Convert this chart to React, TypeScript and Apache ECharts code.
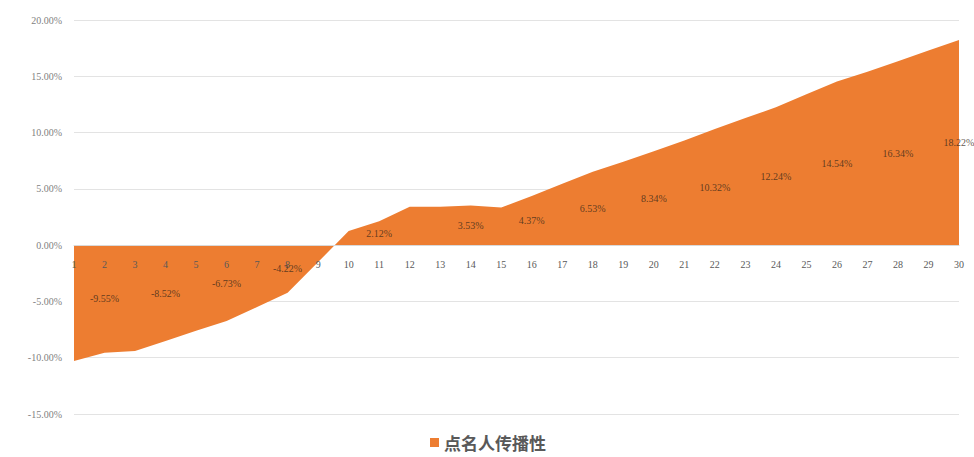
import React, { useEffect, useRef } from "react";
import * as echarts from "echarts";

const categories = Array.from({ length: 30 }, (_, i) => String(i + 1));
const seriesName = "点名人传播性";
const values = [
  -10.3, -9.55, -9.4, -8.52, -7.6, -6.73, -5.5, -4.22, -1.5, 1.25,
  2.12, 3.4, 3.4, 3.53, 3.35, 4.37, 5.45, 6.53, 7.4, 8.34,
  9.3, 10.32, 11.3, 12.24, 13.4, 14.54, 15.4, 16.34, 17.3, 18.22,
];
const labelledCategories = ["2", "4", "6", "8", "11", "14", "16", "18", "20", "22", "24", "26", "28", "30"];
const yTicks = { min: -15, max: 20, interval: 5 };

export default function App() {
  const ref = useRef<HTMLDivElement>(null);
  useEffect(() => {
    document.body.style.margin = "0";
    const chart = echarts.init(ref.current!, null, { renderer: "svg" });
    const labelData = labelledCategories.map((c) => {
      const i = categories.indexOf(c);
      return { value: [c, values[i] / 2], text: values[i].toFixed(2) + "%" };
    });
    const gridTop = 20;
    const gridBottom = 43;
    const plotH = 457 - gridTop - gridBottom;
    const zeroFromBottom = (plotH * (0 - yTicks.min)) / (yTicks.max - yTicks.min);
    chart.setOption({
      animation: false,
      grid: { left: 74, right: 15, top: gridTop, bottom: gridBottom },
      legend: {
        bottom: 1,
        left: 425,
        data: [{ name: seriesName, icon: "rect" }],
        itemWidth: 9,
        itemHeight: 9,
        itemGap: 6,
        textStyle: { fontSize: 17, color: "#595959", fontWeight: "bold", fontFamily: "Noto Sans CJK SC" },
      },
      xAxis: {
        type: "category",
        data: categories,
        boundaryGap: false,
        z: 5,
        offset: -zeroFromBottom,
        axisLine: { onZero: false, lineStyle: { color: "#d9d9d9" } },
        axisTick: { show: false },
        axisLabel: { interval: 0, fontSize: 10, color: "#595959", margin: 14, fontFamily: "Liberation Serif" },
        splitLine: { show: false },
      },
      yAxis: {
        type: "value",
        min: yTicks.min,
        max: yTicks.max,
        interval: yTicks.interval,
        axisLine: { show: false },
        axisTick: { show: false },
        axisLabel: {
          fontSize: 10,
          color: "#7f7f7f",
          margin: 12,
          fontFamily: "Liberation Serif",
          formatter: (v: number) => v.toFixed(2) + "%",
        },
        splitLine: { lineStyle: { color: "#e3e3e3" } },
      },
      series: [
        {
          name: seriesName,
          type: "line",
          data: values,
          symbol: "none",
          lineStyle: { width: 0, color: "#ED7D31" },
          itemStyle: { color: "#ED7D31" },
          areaStyle: { color: "#ED7D31", opacity: 1 },
        },
        {
          name: "labels",
          type: "scatter",
          silent: true,
          symbolSize: 0,
          z: 6,
          data: labelData,
          label: {
            show: true,
            position: "inside",
            fontSize: 10,
            color: "#3a2a1a",
            fontFamily: "Liberation Serif",
            formatter: (p: any) => p.data.text,
          },
        },
      ],
    });
    return () => chart.dispose();
  }, []);
  return <div ref={ref} style={{ width: 974, height: 457 }} />;
}
